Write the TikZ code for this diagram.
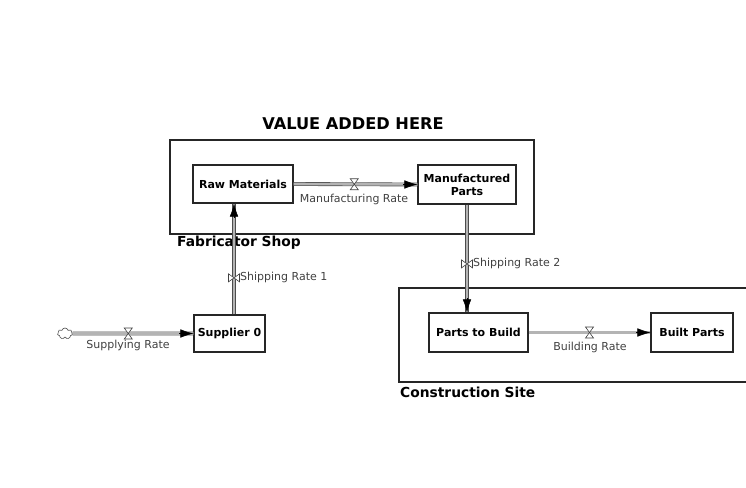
\documentclass[tikz,border=0pt]{standalone}
\usepackage{fontspec}
\setmainfont{DejaVu Sans}
\usetikzlibrary{arrows.meta}
\usetikzlibrary{shapes.symbols}
\tikzset{>=latex}
\definecolor{pipegray}{HTML}{B4B4B4}
\definecolor{framegray}{HTML}{262626}

\tikzset{
  stock/.style={draw=framegray, line width=1.1pt, inner sep=0pt, align=center,
    font=\bfseries\fontsize{11}{13}\selectfont},
  pipe/.style={draw=black!70, line width=0.6pt, double=pipegray, double distance=2.6pt},
  flowtip/.style={draw=black, line width=0.5pt, -{Latex[length=13pt,width=8.5pt]}},
  ratelabel/.style={font=\fontsize{11}{12}\selectfont, text=black!75, inner sep=1pt},
  hvalve/.pic={\draw[black!75, line width=0.6pt, fill=white] (-4,-5.5) -- (4,-5.5) -- (-4,5.5) -- (4,5.5) -- cycle;},
  vvalve/.pic={\draw[black!75, line width=0.6pt, fill=white] (-5.5,-4) -- (-5.5,4) -- (5.5,-4) -- (5.5,4) -- cycle;}
}

\begin{document}
\begin{tikzpicture}[x=1pt,y=-1pt]
  \useasboundingbox (0,0) rectangle (746,487);

  % sectors
  \draw[framegray, line width=1.1pt] (170,140) rectangle (534,234);
  \draw[framegray, line width=1.1pt] (399,288) rectangle (760,382);
  \node[font=\bfseries\fontsize{16.2}{18}\selectfont] (valuetitle) at (353,124) {VALUE ADDED HERE};
  \node[anchor=west, inner sep=0pt, font=\bfseries\fontsize{13.8}{15}\selectfont] (fabshop) at (177,243) {Fabricator Shop};
  \node[anchor=west, inner sep=0pt, font=\bfseries\fontsize{13.8}{15}\selectfont] (consite) at (400,392) {Construction Site};

  % stocks
  \node[stock, minimum width=100pt, minimum height=38pt] (rawmat) at (243,184) {Raw Materials};
  \node[stock, minimum width=98pt, minimum height=39pt] (mfgparts) at (467,184.5) {Manufactured\\Parts};
  \node[stock, minimum width=71pt, minimum height=37pt] (supplier) at (229.5,333.5) {Supplier 0};
  \node[stock, minimum width=99pt, minimum height=39pt] (tobuild) at (478.5,332.5) {Parts to Build};
  \node[stock, minimum width=82pt, minimum height=39pt] (built) at (692,332.5) {Built Parts};
  \node[cloud, draw=black!70, line width=0.6pt, cloud puffs=7, minimum width=15pt, minimum height=11pt, inner sep=0pt] (source) at (65,333.5) {};

  % flows
  \draw[pipe] (source.east) -- (supplier.west) coordinate[pos=0.46] (supvalve);
  \draw[flowtip] ([xshift=-14pt]supplier.west) -- (supplier.west);
  \pic at (supvalve) {hvalve};
  \node[ratelabel] (suprate) at (128,345) {Supplying Rate};

  \draw[pipe] ([xshift=4.5pt]supplier.north) -- ([xshift=4.5pt]supplier.north |- rawmat.south) coordinate[pos=0.33] (ship1valve);
  \draw[flowtip] ([xshift=4.5pt,yshift=-14pt]supplier.north |- rawmat.south) -- ([xshift=4.5pt]supplier.north |- rawmat.south);
  \pic at (ship1valve) {vvalve};
  \node[ratelabel, anchor=west] (ship1rate) at ([xshift=5pt]ship1valve) {Shipping Rate 1};

  \draw[pipe] (rawmat.east) -- (mfgparts.west) coordinate[pos=0.49] (mfgvalve);
  \draw[flowtip] ([xshift=-14pt]mfgparts.west) -- (mfgparts.west);
  \pic at (mfgvalve) {hvalve};
  \node[ratelabel] (mfgrate) at (354,199) {Manufacturing Rate};

  \draw[pipe] (mfgparts.south) -- (mfgparts.south |- tobuild.north) coordinate[pos=0.55] (ship2valve);
  \draw[flowtip] ([yshift=14pt]mfgparts.south |- tobuild.north) -- (mfgparts.south |- tobuild.north);
  \pic at (ship2valve) {vvalve};
  \node[ratelabel, anchor=west] (ship2rate) at ([xshift=5pt]ship2valve) {Shipping Rate 2};

  \draw[pipe] (tobuild.east) -- (built.west) coordinate[pos=0.5] (bldvalve);
  \draw[flowtip] ([xshift=-14pt]built.west) -- (built.west);
  \pic at (bldvalve) {hvalve};
  \node[ratelabel] (bldrate) at (590,347) {Building Rate};
\end{tikzpicture}
\end{document}
